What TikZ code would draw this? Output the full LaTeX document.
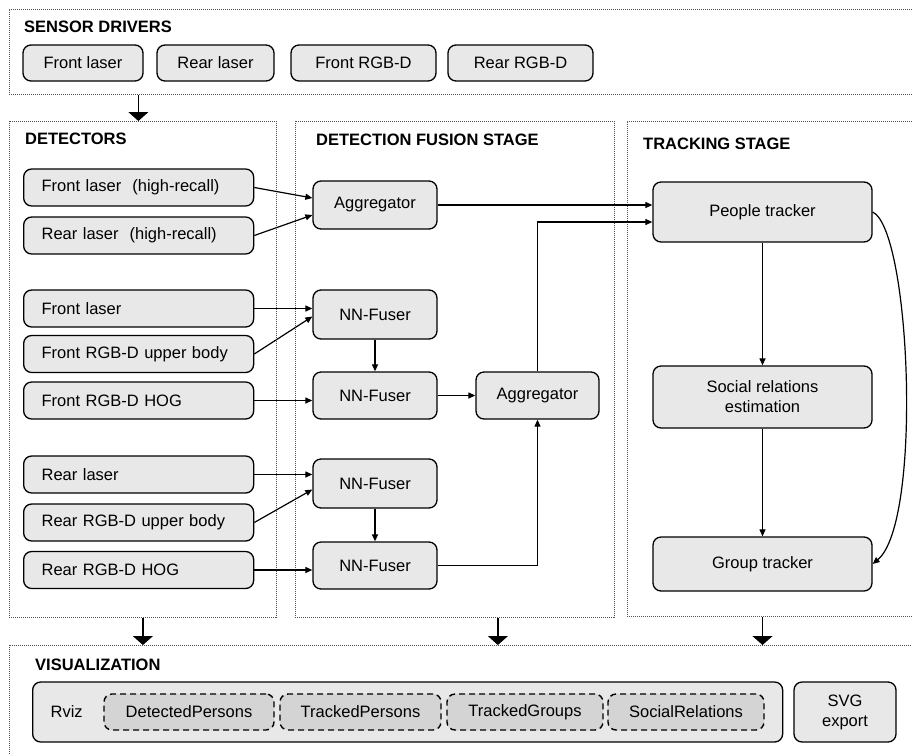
\documentclass[tikz,border=0pt]{standalone}
\usepackage{fontspec}
\setmainfont{Liberation Sans}
\usetikzlibrary{arrows.meta, positioning, calc}

\definecolor{boxgray}{HTML}{E8E8E8}
\definecolor{topicgray}{HTML}{D4D4D4}
\definecolor{framegray}{HTML}{505050}

\begin{document}
\begin{tikzpicture}[
        x=1pt, y=-1pt,
        every node/.style = {
            font=\fontsize{16.5}{20}\selectfont
        },
        stage/.style = {
            draw=framegray,
            line width=0.8pt,
            dash pattern=on 1pt off 1pt,
            anchor=north west,
            inner sep=0pt
        },
        title/.style = {
            anchor=west,
            inner sep=0pt,
            font=\fontsize{16.5}{20}\selectfont\bfseries
        },
        module/.style = {
            draw,
            line width=1.3pt,
            rounded corners=8pt,
            fill=boxgray,
            align=center,
            inner sep=0pt
        },
        detector/.style = {
            module,
            anchor=west,
            minimum height=37pt,
            text width=194pt,
            inner xsep=18pt,
            align=left
        },
        topic/.style = {
            module,
            dash pattern=on 6pt off 4pt,
            line width=1.4pt,
            fill=topicgray,
            minimum height=36pt
        },
        flow/.style = {-{Triangle[length=7pt,width=6pt]}, line width=1.2pt},
        pass/.style = {-{Triangle[length=9pt,width=20pt]}, line width=1.2pt}]
        \useasboundingbox (0,0) rectangle (912,753);

        % stage frames
        \node[stage, minimum width=921pt, minimum height=85pt] (sensors) at (9,9) {};
        \node[stage, minimum width=267pt, minimum height=496pt] (detectors) at (9,121) {};
        \node[stage, minimum width=319pt, minimum height=496pt] (fusion) at (295,121) {};
        \node[stage, minimum width=303pt, minimum height=495pt] (tracking) at (627,121) {};
        \node[stage, minimum width=921pt, minimum height=130pt] (visual) at (9,645) {};

        \node[title] (sensorsT) at (24,27) {SENSOR DRIVERS};
        \node[title] (detectorsT) at (25,139) {DETECTORS};
        \node[title] (fusionT) at (316,140) {DETECTION FUSION STAGE};
        \node[title] (trackingT) at (643,144) {TRACKING STAGE};
        \node[title] (visualT) at (35,665) {VISUALIZATION};

        % sensor drivers
        \node[module, minimum width=120pt, minimum height=36pt] (frontLaser) at (83,63) {Front laser};
        \node[module, minimum width=117pt, minimum height=36pt] (rearLaser) at (215.5,63) {Rear laser};
        \node[module, minimum width=145pt, minimum height=36pt] (frontRGBD) at (363.5,63) {Front RGB-D};
        \node[module, minimum width=145pt, minimum height=36pt] (rearRGBD) at (520.5,63) {Rear RGB-D};

        % detectors
        \node[detector] (dfh) at (23,187.5) {Front laser~ (high-recall)};
        \node[detector] (drh) at (23,235.5) {Rear laser~ (high-recall)};
        \node[detector] (dfl) at (23,308.5) {Front laser};
        \node[detector] (dfu) at (23,354) {Front RGB-D upper body};
        \node[detector] (dfg) at (23,400.5) {Front RGB-D HOG};
        \node[detector] (drl) at (23,474.5) {Rear laser};
        \node[detector] (dru) at (23,522.5) {Rear RGB-D upper body};
        \node[detector] (drg) at (23,570) {Rear RGB-D HOG};

        % fusion
        \node[module, minimum width=124pt, minimum height=48pt] (agg1) at (375,205) {Aggregator};
        \node[module, minimum width=124pt, minimum height=49pt] (nn1) at (375,314.5) {NN-Fuser};
        \node[module, minimum width=124pt, minimum height=47pt] (nn2) at (375,395.5) {NN-Fuser};
        \node[module, minimum width=124pt, minimum height=49pt] (nn3) at (375,483.5) {NN-Fuser};
        \node[module, minimum width=124pt, minimum height=47pt] (nn4) at (375,565.5) {NN-Fuser};
        \node[module, minimum width=123pt, minimum height=47pt] (agg2) at (537.5,395.5) {Aggregator};

        % tracking
        \node[module, minimum width=219pt, minimum height=60pt] (pt) at (762.5,212) {People tracker};
        \node[module, minimum width=219pt, minimum height=62pt] (sr) at (762.5,397) {Social relations\\estimation};
        \node[module, minimum width=219pt, minimum height=54pt] (gt) at (762.5,564) {Group tracker};

        % visualization
        \node[module, anchor=west, minimum height=60pt, text width=714pt, inner xsep=18pt, align=left] (rviz) at (32,712) {Rviz};
        \node[topic, minimum width=170pt] (dp) at (189,712) {DetectedPersons};
        \node[topic, minimum width=161pt] (tp) at (360.5,712) {TrackedPersons};
        \node[topic, minimum width=156pt] (tg) at (525,712) {TrackedGroups};
        \node[topic, minimum width=156pt] (srl) at (686,712) {SocialRelations};
        \node[module, minimum width=102pt, minimum height=60pt] (svg) at (845,712) {SVG\\export};

        % connections
        \draw[flow] (dfh.east) -- ($(agg1.west)+(0,-7)$);
        \draw[flow] (drh.east) -- ($(agg1.west)+(0,10)$);
        \draw[flow] (dfl.east) -- (dfl.east -| nn1.west);
        \draw[flow] (dfu.east) -- ($(nn1.west)+(0,2)$);
        \draw[flow] (dfg.east) -- (dfg.east -| nn2.west);
        \draw[flow] (drl.east) -- (drl.east -| nn3.west);
        \draw[flow] (dru.east) -- ($(nn3.west)+(0,6)$);
        \draw[flow] (drg.east) -- (drg.east -| nn4.west);
        \draw[flow] (nn1.south) -- (nn2.north);
        \draw[flow] (nn3.south) -- (nn4.north);
        \draw[flow] (nn2) -- (agg2);
        \draw[flow] (nn4.east) -| (agg2.south);
        \draw[flow] (agg1.east) -- (agg1.east -| pt.west);
        \draw[flow] (agg2.north) |- ($(pt.west)+(0,10)$);
        \draw[flow] (pt) -- (sr);
        \draw[flow] (sr) -- (gt);
        \draw[flow] (pt.east) .. controls +(38,18) and +(50,-42) .. (gt.east);

        \draw[pass] ([xshift=-4.5pt]detectors.north |- sensors.south) -- ([xshift=-4.5pt]detectors.north);
        \draw[pass] (detectors.south) -- (detectors.south |- visual.north);
        \draw[pass] ([xshift=43pt]fusion.south) -- ([xshift=43pt]fusion.south |- visual.north);
        \draw[pass] (gt.south |- tracking.south) -- (gt.south |- visual.north);
    \end{tikzpicture}
\end{document}
